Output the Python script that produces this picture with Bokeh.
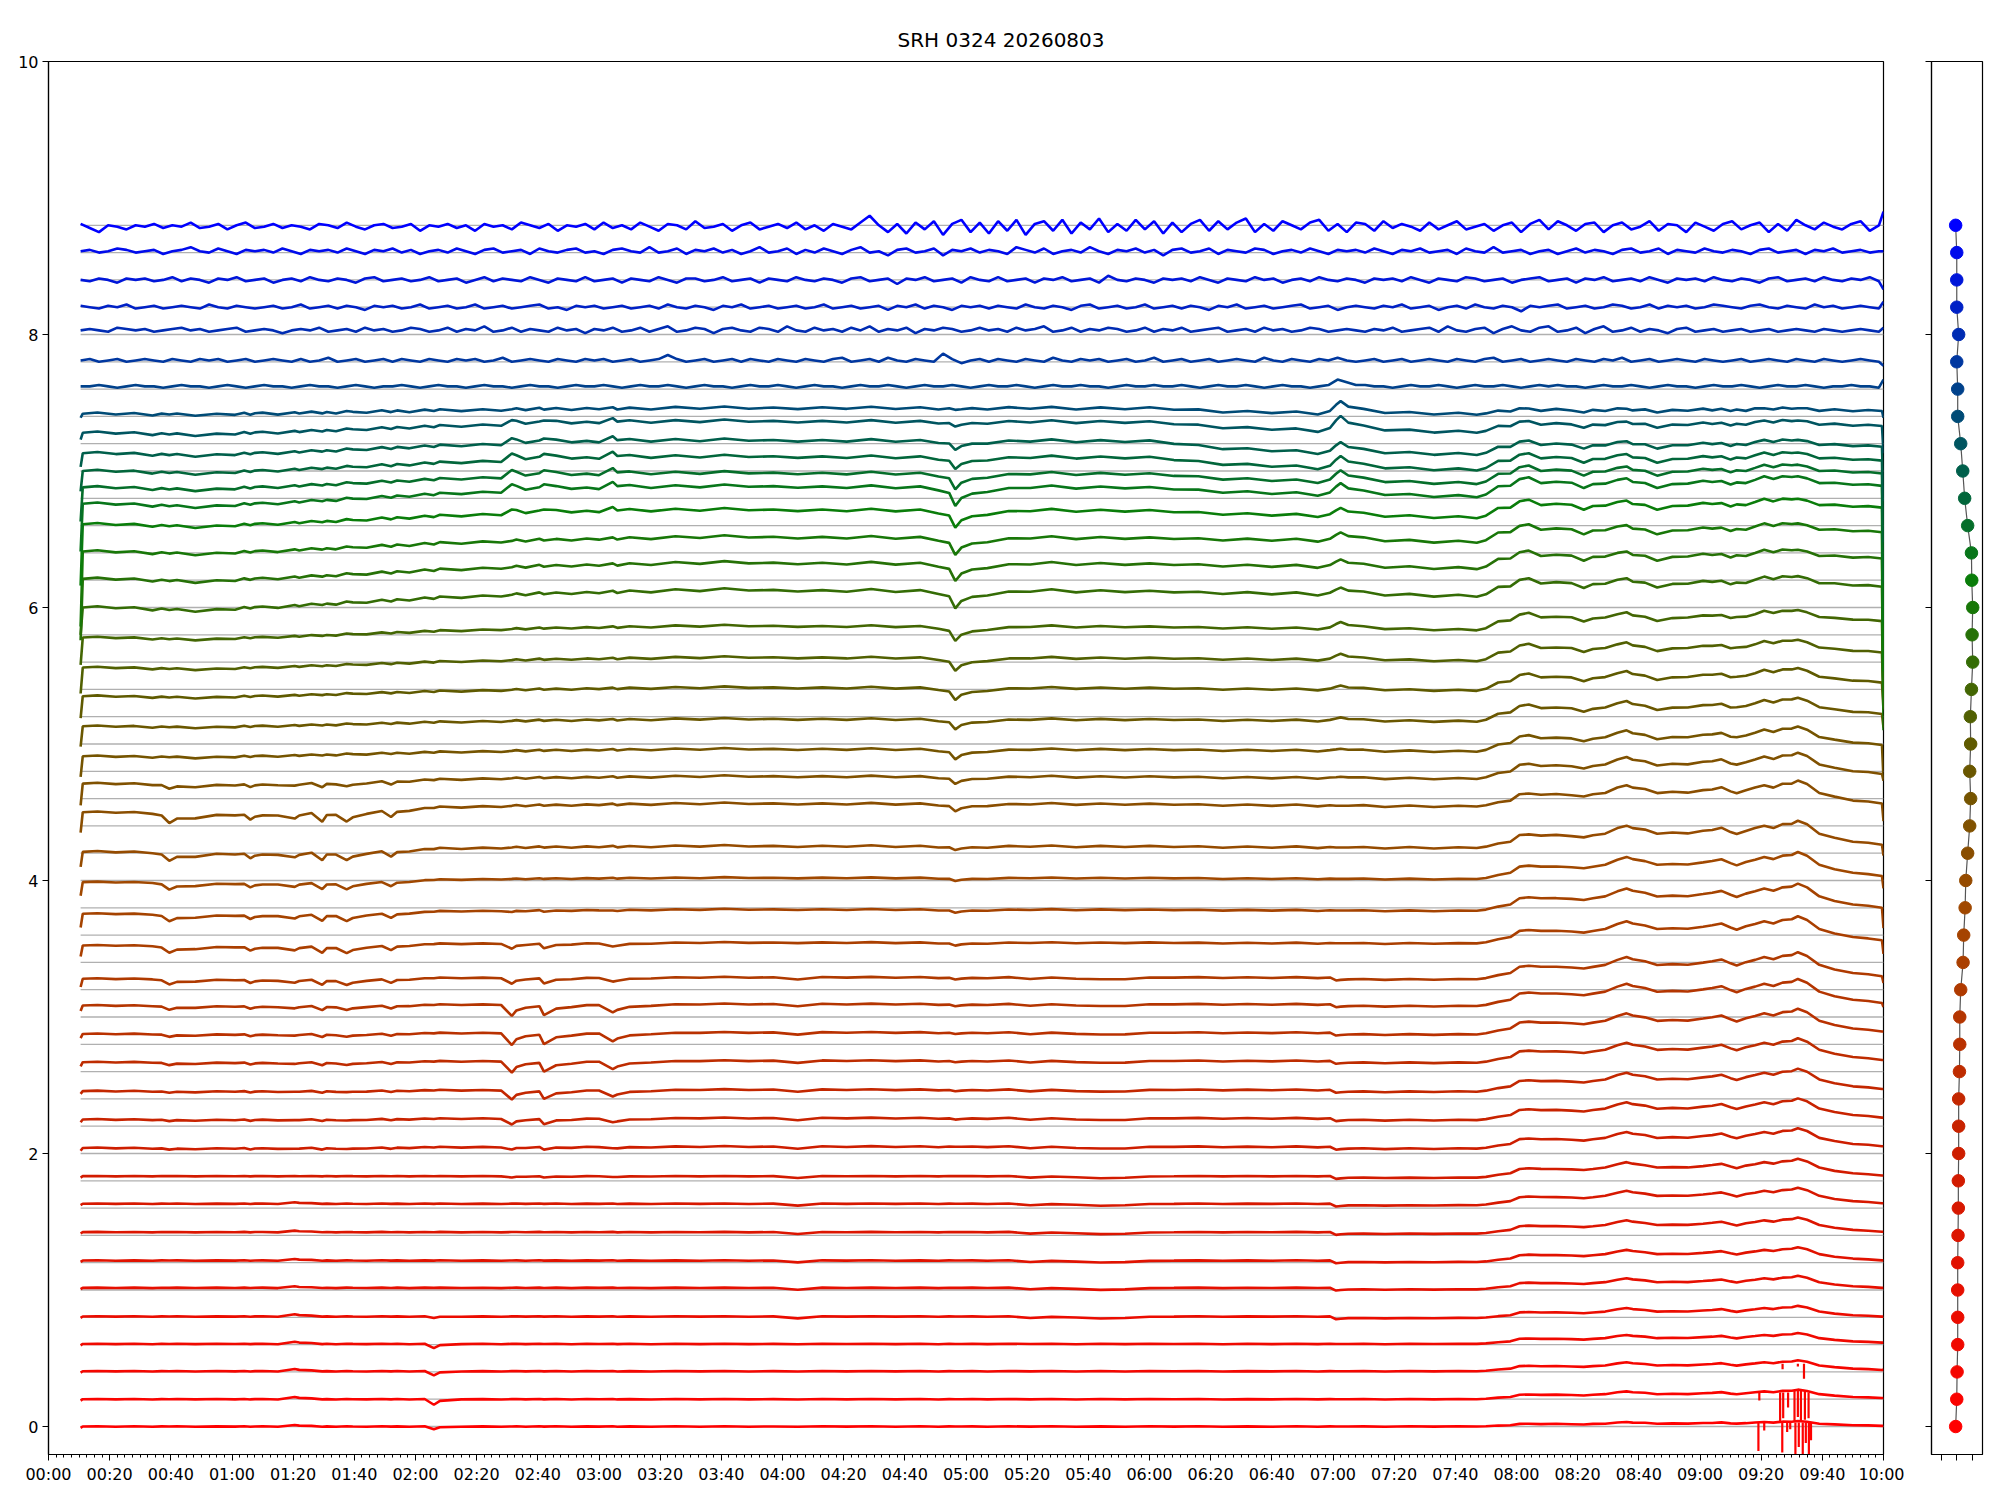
import numpy as np
from bokeh.plotting import figure
from bokeh.layouts import row
from bokeh.models import FixedTicker, Range1d
from bokeh.embed import file_html
from bokeh.resources import INLINE

TITLE = "SRH 0324 20260803"

# ---------------- data ----------------
# knot times (minutes after 00:00) for the smoother traces
T = [10.5, 11.2, 16, 22, 28, 34, 37, 39.5, 42, 48,
     55, 61, 64, 66, 67.5, 70, 75, 80.5, 82, 86,
     89.5, 91, 94, 97.5, 99.5, 104, 109, 112, 114, 118,
     123, 126, 128, 135, 142, 148, 151.5, 153, 156, 160.5,
     162, 166, 171, 176, 180, 184.5, 186, 190, 197, 205,
     213, 221, 229, 237, 245, 253, 261, 269, 277, 285,
     291, 294.5, 296.5, 298.5, 302, 307, 314, 321, 328, 336,
     344, 352, 360, 368, 376, 384, 392, 400, 408, 415,
     419, 421, 422.5, 425, 430, 437, 445, 453, 461, 467,
     470, 474, 478, 481, 484, 488, 493, 498, 502, 505,
     509, 513, 516, 518, 522, 526, 531, 536, 541, 544,
     547, 550, 552, 555, 558, 561, 564, 567, 570, 572,
     575, 579, 584, 590, 595, 599.5, 600]

# level (value near 00:15) of each of the 45 traces, bottom to top
LEVEL = [0.0, 0.2, 0.405, 0.605, 0.806, 1.016, 1.216, 1.424, 1.632, 1.834,
         2.04, 2.249, 2.457, 2.669, 2.876, 3.084, 3.28, 3.524, 3.756, 3.988,
         4.21, 4.5, 4.71, 4.91, 5.13, 5.35, 5.56, 5.78, 6.0, 6.21,
         6.41, 6.61, 6.76, 6.88, 7.0, 7.13, 7.28, 7.42, 7.62, 7.81,
         8.03, 8.2, 8.4, 8.61, 8.79]

# slow rise of the middle traces (shape on T)
DRIFT = [0, 0, 0, 0, -0.05, -0.1, -0.1, -0.15, -0.15, -0.2,
         -0.15, -0.1, -0.05, 0, 0, 0, 0.05, 0.1, 0.1, 0.15,
         0.2, 0.2, 0.25, 0.3, 0.3, 0.35, 0.4, 0.4, 0.45, 0.5,
         0.55, 0.55, 0.6, 0.65, 0.7, 0.75, 0.75, 0.8, 0.8, 0.85,
         0.85, 0.85, 0.9, 0.9, 0.9, 0.95, 0.95, 1.0, 1.0, 1.05,
         1.05, 1.1, 1.1, 1.05, 1.05, 1.0, 1.0, 1.05, 1.0, 1.0,
         1.0, 0.95, 0.95, 0.95, 0.95, 1.0, 1.0, 1.0, 1.05, 1.0,
         1.0, 1.0, 0.95, 0.95, 0.9, 0.9, 0.9, 0.85, 0.85, 0.8,
         0.8, 0.8, 0.8, 0.8, 0.8, 0.75, 0.75, 0.7, 0.7, 0.7,
         0.7, 0.7, 0.7, 0.7, 0.7, 0.7, 0.7, 0.7, 0.7, 0.7,
         0.7, 0.7, 0.7, 0.7, 0.7, 0.7, 0.7, 0.7, 0.7, 0.7,
         0.7, 0.7, 0.7, 0.7, 0.7, 0.7, 0.7, 0.7, 0.7, 0.7,
         0.7, 0.7, 0.7, 0.7, 0.7, 0.7, 0.7]

# small texture of the middle traces (shape on T)
WIG = [0, 0, 0.6, -0.4, 0.5, -0.6, 0.3, 0, 0.5, -0.5,
       0.4, -0.3, 0.6, -0.5, 0.2, 0.5, -0.6, 0.4, -0.2, 0.6,
       -0.4, 0.3, -0.6, 0.5, 0.1, -0.5, 0.6, -0.3, 0.4, -0.6,
       0.5, -0.2, 0.6, -0.5, 0.3, -0.6, 0.2, 0.5, -0.4, 0.6,
       -0.3, 0.5, -0.6, 0.4, -0.2, 0.6, -0.5, 0.3, -0.6, 0.5,
       -0.4, 0.6, -0.5, 0.2, -0.6, 0.5, -0.3, 0.6, -0.4, 0.5,
       -0.6, 0.3, 0, 0, 0.4, -0.5, 0.6, -0.3, 0.5, -0.6,
       0.4, -0.5, 0.6, -0.2, 0.5, -0.6, 0.3, -0.4, 0.6, -0.5,
       0.3, 0, 0, 0, 0.4, -0.6, 0.5, -0.3, 0.6, -0.4,
       0, 0.3, -0.4, 0.5, 0, -0.5, 0.6, -0.3, -0.6, 0.4,
       -0.5, 0.6, 0, -0.4, 0.5, -0.6, 0.4, -0.3, 0.6, -0.4,
       0.5, -0.3, 0.3, -0.5, 0.6, 0, -0.4, 0.5, -0.3, 0,
       0.4, -0.5, 0.6, -0.4, 0.3, 0, 0]

# late burst, red/brown form (peak 09:32)
LATE_R = {467: 0.02, 470: 0.05, 474: 0.15, 478: 0.25, 481: 0.45, 484: 0.5, 488: 0.48,
          493: 0.45, 498: 0.45, 502: 0.42, 505: 0.45, 509: 0.55, 513: 0.7, 516: 0.82,
          518: 0.75, 522: 0.65, 526: 0.55, 531: 0.55, 536: 0.55, 541: 0.6, 544: 0.68,
          547: 0.72, 550: 0.6, 552: 0.5, 555: 0.65, 558: 0.7, 561: 0.82, 564: 0.75,
          567: 0.85, 570: 0.9, 572: 1.0, 575: 0.85, 579: 0.55, 584: 0.35, 590: 0.25,
          595: 0.18, 599.5: 0.12, 600: 0.12}
# late burst, green form (step at 08:00)
LATE_G = {470: 0.1, 474: 0.5, 478: 0.6, 481: 0.85, 484: 1.0, 488: 0.75, 493: 0.7,
          498: 0.75, 502: 0.5, 505: 0.6, 509: 0.72, 513: 0.8, 516: 0.95, 518: 0.8,
          522: 0.65, 526: 0.5, 531: 0.6, 536: 0.7, 541: 0.75, 544: 0.8, 547: 0.75,
          550: 0.65, 552: 0.7, 555: 0.75, 558: 0.8, 561: 1.05, 564: 0.95, 567: 1.0,
          570: 1.05, 572: 1.05, 575: 0.9, 579: 0.75, 584: 0.65, 590: 0.65, 595: 0.6,
          599.5: 0.55, 600: 0.55}
# dips 00:37 - 01:55 of the brown traces
DIP_EARLY = {37: -0.3, 39.5: -1.0, 42: -0.6, 48: -0.4, 55: -0.2, 61: -0.2, 64: -0.3,
             66: -0.7, 67.5: -0.5, 70: -0.4, 75: -0.3, 80.5: -0.8, 82: -0.4, 86: -0.3,
             89.5: -1.1, 91: -0.5, 94: -0.4, 97.5: -1.3, 99.5: -0.8, 104: -0.4,
             109: -0.3, 112: -0.8, 114: -0.4, 118: -0.2, 123: -0.1}
# dips 02:32, 02:42, 03:04
DIP_B = {151.5: -1.0, 153: -0.55, 156: -0.25, 160.5: -0.2, 162: -0.9, 166: -0.4,
         171: -0.2, 176: -0.1, 180: -0.05, 184.5: -0.75, 186: -0.45, 190: -0.25,
         197: -0.1, 205: -0.05}
# dip 04:57
DIP_C = {291: -0.1, 294.5: -0.3, 296.5: -1.0, 298.5: -0.55, 302: -0.35, 307: -0.2, 314: -0.1}
# spike 07:02
SPIKE_D = {419: 0.15, 421: 0.7, 422.5: 1.0, 425: 0.55, 430: 0.3, 437: 0.15, 445: 0.05}
# slow sag of the teal traces before 07:00, then kept
TEAL_RAMP = {368: -0.2, 376: -0.4, 384: -0.6, 392: -0.7, 400: -0.8, 408: -0.9}
TEAL_AFTER = (415, -1.0)
# small dips of the red traces
RED_MID = {245: -0.6, 321: -0.5, 328: -0.2, 336: -0.3, 344: -0.8, 352: -0.5, 360: -0.2,
           421: -1.0, 422.5: -0.8}
RED_AFTER = (425, -0.6)
BUMP80 = {80.5: 1.0, 82: 0.7, 86: 0.3}
DIP126 = {126: -1.0, 128: -0.35}

# per-trace amplitudes (hundredths of a unit)
AMP_DRIFT = [0, 0, 0, 0, 0, 0, 0, 0, 0, 0,
             1, 1, 1, 1, 1, 1, 1, 2, 3, 3,
             4, 6, 5, 5, 5, 6, 7, 8, 12, 11,
             10, 10, 12, 10, 10, 9, 8, 4, 0, 0,
             0, 0, 0, 0, 0]
AMP_WIG = [0.3, 0.3, 0.3, 0.3, 0.3, 0.3, 0.3, 0.3, 0.3, 0.3,
           0.6, 0.6, 0.6, 0.6, 0.6, 0.6, 0.6, 0.6, 0.6, 0.6,
           1, 1, 1, 1, 1, 1, 1, 1, 1.5, 1.5,
           1.5, 1.5, 1.5, 1.5, 1.5, 1.5, 1.5, 1.5, 0, 0,
           0, 0, 0, 0, 0]
AMP_LATE_R = [4, 7, 8, 8, 9, 10, 11, 12, 13, 14,
              15, 16, 17, 18, 19, 20, 20, 20, 20, 20,
              20, 19, 16, 12, 9, 7, 5, 3, 2, 0,
              0, 0, 0, 0, 0, 0, 0, 0, 0, 0,
              0, 0, 0, 0, 0]
AMP_LATE_G = [0, 0, 0, 0, 0, 0, 0, 0, 0, 0,
              0, 0, 0, 0, 0, 0, 0, 0, 0, 0,
              0, 0, 3, 6, 8, 9, 10, 11, 12, 13,
              13, 13, 14, 13, 12, 10, 8, 4, 0, 0,
              0, 0, 0, 0, 0]
AMP_DIP_EARLY = [0, 0, 0, 0, 0, 0, 0, 0, 0, 0,
                 1, 1, 1, 2, 2, 3, 4, 5, 5, 5,
                 6, 7, 3, 0, 0, 0, 0, 0, 0, 0,
                 0, 0, 0, 0, 0, 0, 0, 0, 0, 0,
                 0, 0, 0, 0, 0]
AMP_DIP_B = [0, 0, 0, 0, 0, 0, 0, 0, 0, 1,
             2, 4.5, 7, 8.5, 9, 8.5, 4.5, 4, 1, 0,
             0, 0, 0, 0, 0, 0, 0, 0, 0, 0,
             0, -3, -5, -5, -5, -4, -3, 0, 0, 0,
             0, 0, 0, 0, 0]
AMP_DIP_C = [0, 0, 0, 0, 0, 0, 0, 0, 0, 0,
             0, 1, 1, 1, 1, 1.5, 1.5, 2, 2, 2,
             2.5, 5, 5, 7, 7, 8.5, 9, 10, 12, 12,
             12, 12, 13, 11, 8, 6, 3, 1, 0, 0,
             0, 0, 0, 0, 0]
AMP_SPIKE_D = [0, 0, 0, 0, 0, 0, 0, 0, 0, 0,
               0, 0, 0, 0, 0, 0, 0, 0, 0, 0,
               0, 0, 1, 1.5, 2.5, 3, 4.5, 5, 5, 5.5,
               6, 6, 8.5, 8.5, 9, 8, 11, 9, 0, 0,
               0, 0, 0, 0, 0]
AMP_TEAL = [0, 0, 0, 0, 0, 0, 0, 0, 0, 0,
            0, 0, 0, 0, 0, 0, 0, 0, 0, 0,
            0, 0, 0, 0, 0, 0, 0, 0, 0, 0,
            0, 2, 3, 4, 6, 7, 5, 3, 0, 0,
            0, 0, 0, 0, 0]
AMP_RED_MID = [0, 0, 0, 0, 2, 2, 2, 2, 2, 2,
               2, 2, 2, 2, 2, 2, 2, 0, 0, 0,
               0, 0, 0, 0, 0, 0, 0, 0, 0, 0,
               0, 0, 0, 0, 0, 0, 0, 0, 0, 0,
               0, 0, 0, 0, 0]
AMP_BUMP80 = [1, 1.5, 1.5, 1.5, 1.5, 1, 1, 1, 1, 0,
              0, 0, 0, 0, 0, 0, 0, 0, 0, 0,
              0, 0, 0, 0, 0, 0, 0, 0, 0, 0,
              0, 0, 0, 0, 0, 0, 0, 0, 0, 0,
              0, 0, 0, 0, 0]
AMP_DIP126 = [2, 4, 3, 3, 1, 0, 0, 0, 0, 0,
              0, 0, 0, 0, 0, 0, 0, 0, 0, 0,
              0, 0, 0, 0, 0, 0, 0, 0, 0, 0,
              0, 0, 0, 0, 0, 0, 0, 0, 0, 0,
              0, 0, 0, 0, 0]
# drop of the very first sample and change of the very last sample (hundredths)
START_DROP = [1, 1, 1, 1, 1, 1, 1, 1, 1, 1,
              2, 2, 2, 3, 3, 4, 6, 8, 10, 10,
              11, 15, 16, 15, 15, 16, 19, 20, 20, 45,
              55, 45, 35, 25, 15, 10, 5, 3, 0, 0,
              0, 0, 0, 0, 0]
END_STEP = [0, 0, 0, 0, 0, 0, 0, 0, 0, 0,
            0, 0, 0, 0, 0, -3, -5, -10, -15, -9,
            -8, -13, -5, -25, -10, -20, -40, -60, -80, -110,
            -145, -120, -100, -80, -60, -40, -20, -5, 6, -3,
            3, 5, -6, 0, 10]

# noisy top traces: values every 3 minutes from 00:10:30 (hundredths)
NOISE = {
    44: [2, -1, -4, 1, 0, -2, 1, 0, 2, -1, 1, 0, 3, -1, 0, 2, -2, 1, 3, -1,
         0, 2, -1, 1, 0, -2, 2, 1, -1, 3, 0, -2, 1, 2, -1, 0, 2, -3, 1, 0,
         2, -1, 1, -3, 2, 0, 1, -2, 3, 1, -1, 2, -3, 1, 0, 2, -2, 3, -1, 1,
         -2, 3, 0, -3, 2, 1, -2, 4, -1, 0, 2, -3, 1, 3, -2, 0, 2, -1, 3, -2,
         1, -3, 2, 0, -2, 3, 8, 1, -4, 2, -5, 3, -2, 4, -6, 2, 5, -4, 3, -5,
         4, -3, 5, -6, 2, 4, -3, 5, -5, 3, -2, 6, -4, 2, -3, 5, -2, 4, -5, 3,
         -4, 2, 5, -3, 4, -2, 3, 6, -4, 2, -3, 4, 1, -2, 3, 5, -3, 2, -4, 3,
         2, -3, 4, -1, 2, 0, -3, 3, -2, 1, 4, -2, 0, 2, -3, 1, 3, -4, 2, 5,
         -2, 4, 1, -3, 2, 3, -4, 1, 3, -2, 0, 4, -3, 2, 1, -4, 3, 0, -3, 2,
         4, -2, 1, 3, -4, 2, -3, 5, 1, -2, 3, 0, -2, 2, 4, -3, 1],
    43: [0, 1, -1, 0, 2, 1, -1, 0, 1, -2, 0, 1, 3, 0, -1, 2, 0, -2, 1, 0,
         1, -1, 2, 0, -2, 1, 0, 1, -1, 2, 0, -2, 1, 0, 2, -1, 1, -2, 0, 1,
         -1, 2, 0, -2, 1, 2, -1, 0, 1, -2, 2, 0, -1, 1, 2, -1, 0, -2, 1, 2,
         0, -1, 3, -1, 0, 2, -2, 1, 0, 2, -1, 1, -2, 0, 3, -1, 0, 2, -2, 1,
         -1, 2, 0, -2, 1, 3, -1, 0, -3, 1, 2, -1, 0, 2, -3, 1, 0, 2, -1, 1,
         0, -2, 3, 1, -1, 2, -2, 0, 1, -1, 3, 0, -2, 1, 0, 2, -1, 1, -3, 1,
         2, -1, 0, 2, -2, 1, 0, -1, 2, 1, -2, 0, 1, -1, 2, 0, -2, 1, 0, 1,
         -1, 2, 0, -2, 1, 0, 2, -1, 0, 1, -2, 2, 0, -1, 3, -1, 0, 1, -2, 0,
         1, -2, 0, 2, -1, 1, 0, -2, 1, 2, -1, 0, 2, -2, 1, 0, -1, 2, 0, -1,
         1, 0, -2, 1, 2, -1, 0, 1, -2, 1, 0, 2, -1, 0, 1, -1, 0],
    42: [0, -1, 1, 0, -2, 1, 0, 1, -1, 0, 2, -1, 1, 0, -2, 1, 0, 2, -1, 0,
         1, -2, 0, 1, -1, 2, 0, -1, 1, 0, -2, 1, 2, -1, 0, 1, -1, 0, 2, -1,
         0, 1, -2, 0, 2, -1, 1, 0, -1, 2, 0, -2, 1, 0, -1, 2, -1, 0, 1, -2,
         1, 0, -1, 2, 0, -2, 1, 1, -1, 0, 2, -1, 0, 1, -2, 1, 0, -1, 2, 0,
         -1, 1, 0, -2, 1, 2, -1, 0, 1, -3, 1, 0, 2, -1, 0, 1, -2, 2, 0, -1,
         2, -1, 0, 1, -2, 1, 0, 2, -1, 0, 1, -2, 3, 0, -1, 1, 0, -2, 1, 0,
         1, -1, 2, 0, -2, 1, 0, -1, 2, 0, 1, -2, 0, 1, -1, 2, 0, -1, 1, 0,
         -2, 1, 0, 1, -1, 2, 0, -2, 1, 0, -1, 2, 1, -1, 0, 1, -2, 0, 1, 2,
         -1, 0, 1, -2, 1, 0, 2, -1, 0, 1, -1, 2, 0, -2, 1, 0, 1, -1, 2, 0,
         -1, 1, 0, -2, 1, 2, -1, 0, 1, -1, 2, 0, -1, 1, 0, 2, -1],
    41: [1, 0, -1, 1, 0, 2, -1, 0, 1, -1, 0, 1, 0, -1, 2, 0, -1, 1, 0, -1,
         0, 1, -1, 0, 2, -1, 0, 1, -1, 1, 0, -2, 1, 0, 1, -1, 0, 2, -1, 0,
         1, -1, 0, 2, -1, 0, 1, -1, 0, 1, 2, -1, 0, -2, 1, 0, 1, -1, 0, 1,
         -1, 0, 1, -1, 2, 0, -1, 1, 0, -2, 1, 0, 2, -1, 0, 1, -1, 0, 1, -1,
         0, 2, -1, 0, 1, -1, 0, 1, -2, 1, 0, 2, -1, 1, 0, -2, 1, 0, 1, -1,
         1, 0, -1, 2, 0, -1, 1, 0, -2, 1, 2, -1, 0, 1, -1, 0, 2, -1, 0, 1,
         -1, 1, 0, -2, 1, 0, 2, -1, 0, 1, -1, 0, 1, 2, -1, 0, 1, -2, 0, 1,
         0, -1, 1, 0, 2, -1, 0, 1, -2, 0, 1, -1, 2, 0, -1, 1, 0, -3, 1, 0,
         1, 2, -1, 0, 1, -1, 0, 2, 1, -1, 0, 2, -1, 1, 0, 1, -1, 0, 2, 1,
         0, -1, 1, 2, 0, -1, 1, 0, -1, 2, 0, 1, -1, 0, 1, 0, -1],
    40: [0, 1, 0, -1, 2, 1, 0, 1, -1, 0, 1, 2, 0, 1, -1, 0, 1, 2, -1, 0,
         1, 0, -2, 0, 1, 0, 2, -1, 0, 1, -1, 2, 0, 1, -1, 0, 2, 1, -1, 0,
         2, -1, 1, 0, 3, -1, 0, 2, -1, 1, 0, -1, 2, 0, 1, -2, 1, 0, 2, -1,
         0, 2, -1, 1, 3, -1, 0, 2, 1, -2, 1, 2, 0, -1, 2, 1, -1, 3, 0, -1,
         2, 0, 1, -1, 2, 0, 3, -1, 1, 0, 2, -2, 1, 0, 2, 1, -1, 0, 2, 0,
         1, -1, 2, 0, 1, 3, -1, 0, 2, -1, 1, 0, 2, 1, -1, 0, 2, -1, 1, 0,
         2, -1, 0, 1, 2, -1, 0, 1, -1, 2, 0, 1, -1, 0, 2, 1, -1, 0, 1, 0,
         -1, 1, 0, 2, -1, 0, 1, 2, -1, 3, 0, -1, 1, 2, -2, 1, 3, 0, -1, 2,
         3, -1, 0, 2, -2, 1, 3, -1, 0, 2, -1, 1, 0, -2, 1, 2, -1, 0, 1, -1,
         0, 1, -1, 0, 1, -1, 0, 1, 0, -1, 1, 0, -1, 0, 1, 0, -1],
    39: [0, 1, -1, 0, 1, -1, 0, 1, 0, -1, 1, 0, -1, 1, 0, 1, -1, 0, 1, -1,
         0, 1, 0, -1, 1, -1, 0, 2, -1, 0, 1, -1, 0, 1, -1, 1, 0, -1, 1, 0,
         -1, 1, 0, 1, -1, 0, 2, -1, 0, 1, 0, -1, 1, 0, -1, 1, 0, 1, -1, 0,
         1, -1, 0, 1, 4, 1, -1, 0, 1, -1, 0, 1, -1, 1, 0, -1, 1, 0, -1, 1,
         0, -1, 1, 2, -1, 0, 1, -1, 2, 0, -1, 1, 0, -1, 5, 1, -2, 0, 1, -1,
         1, 0, -1, 1, 0, -1, 2, 0, -1, 1, 0, 1, -1, 0, 1, -1, 0, 2, -1, 0,
         1, -1, 0, 1, -1, 0, 1, 0, -1, 2, 0, -1, 1, 0, -1, 1, 0, 2, 0, -1,
         0, 1, -1, 0, 1, -1, 0, 1, 0, -1, 1, 0, -1, 1, 2, -1, 0, 1, -1, 0,
         1, 0, -1, 1, 0, -1, 1, 0, 2, -1, 0, 1, -1, 0, 1, 0, -1, 1, 0, -1,
         0, 1, -1, 0, 1, 0, -1, 1, 0, -1, 1, 0, -1, 0, 1, 0, -1],
    38: [0, 0, 1, 0, -1, 0, 1, 0, 0, -1, 0, 1, 0, 0, -1, 0, 1, 0, -1, 0,
         1, 0, 0, -1, 0, 1, 0, 0, -1, 0, 1, 0, -1, 0, 0, 1, 0, -1, 0, 1,
         0, 0, -1, 0, 1, 0, 0, -1, 0, 1, 0, 0, -1, 0, 1, 0, 0, 1, 0, -1,
         0, 1, 0, 0, 1, 0, -1, 0, 1, 0, 0, -1, 0, 1, 0, 0, 1, 0, -1, 0,
         1, 0, 0, -1, 0, 1, 0, 0, 1, 0, -1, 0, 1, 0, 0, 1, 0, -1, 0, 1,
         0, 0, 1, 0, -1, 0, 1, 0, 0, 1, 0, 0, -1, 0, 1, 0, 0, 1, 0, 0,
         1, 0, -1, 0, 1, 0, 0, 1, 0, -1, 0, 1, 0, 0, -1, 0, 1, 5, 3, 1,
         1, 0, 0, -1, 0, 1, 0, 0, 1, 0, -1, 0, 1, 0, 0, 1, 0, -1, 0, 1,
         0, 1, 0, 0, -1, 0, 1, 0, 0, 1, 0, -1, 0, 1, 0, 0, -1, 0, 1, 0,
         0, 1, 0, -1, 0, 1, 0, 0, 1, 0, -1, 0, 0, 1, 0, 0, -1],
}
NOISE_T0, NOISE_STEP = 10.5, 3.0

# interference spikes of the three lowest traces near 09:20-09:36
SPK_TRACE = [0, 0, 0, 0, 0, 0, 0, 0, 0, 0, 0,
             1, 1, 1, 1, 1, 1, 1, 1, 1,
             2, 2, 2]
SPK_T = [559.1, 561, 566.9, 568.5, 569.5, 571.2, 572.3, 573.6, 574.6, 575.6, 576.3,
         559.4, 566.2, 567.2, 568.8, 570.9, 572, 573, 574.3, 575.5,
         567, 572, 574]
SPK_TOP = [0.03, 0.03, 0.03, 0.03, 0.03, 0.03, 0.03, 0.03, 0.03, 0.03, 0.03,
           0.25, 0.25, 0.25, 0.25, 0.26, 0.26, 0.26, 0.26, 0.25,
           0.46, 0.46, 0.46]
SPK_BOT = [-0.18, -0.03, -0.19, -0.04, -0.02, -0.21, -0.15, -0.21, -0.12, -0.21, -0.1,
           0.19, 0.04, 0.06, 0.14, 0.04, 0.07, 0.035, 0.05, 0.06,
           0.42, 0.44, 0.35]

# side panel: one value per trace, plotted at the trace's reference level
SIDE_X = [-0.008, -0.001, 0.001, 0.005, 0.005, 0.005, 0.005, 0.007, 0.009, 0.009,
          0.011, 0.011, 0.011, 0.016, 0.018, 0.018, 0.024, 0.039, 0.043, 0.052,
          0.056, 0.068, 0.081, 0.087, 0.081, 0.087, 0.085, 0.092, 0.1, 0.096,
          0.1, 0.094, 0.092, 0.068, 0.049, 0.037, 0.024, 0.005, 0.005, -0.001,
          0.011, -0.001, -0.001, -0.001, -0.008]
REF_STEP = 0.2   # spacing of the grey reference levels

X_MAJOR = list(range(0, 601, 20))
X_MINOR = [m / 2 for m in range(0, 1201, 5)]
Y_TICKS = [0, 2, 4, 6, 8, 10]

# ---------------- styling ----------------
COLOR_STOPS = [(0, (255, 0, 0)), (10, (205, 30, 0)), (19, (160, 72, 0)), (25, (95, 90, 0)),
               (31, (10, 125, 10)), (35, (0, 95, 75)), (39, (0, 55, 160)), (44, (0, 0, 255))]
FONT = "DejaVu Sans"


def trace_color(i):
    for (i0, c0), (i1, c1) in zip(COLOR_STOPS[:-1], COLOR_STOPS[1:]):
        if i0 <= i <= i1:
            f = (i - i0) / (i1 - i0)
            return "#%02x%02x%02x" % tuple(int(round(a + (b - a) * f)) for a, b in zip(c0, c1))
    return "#000000"


n = len(LEVEL)
T_arr = np.array(T, float)


def full(vals):
    vals = list(vals)
    if len(vals) < len(T):
        vals = vals + [vals[-1]] * (len(T) - len(vals))
    return np.array(vals[:len(T)], float)


def sparse(d):
    return np.array([float(d.get(t, 0.0)) for t in T])


def after(spec):
    t0, v = spec
    return np.array([v if t >= t0 else 0.0 for t in T])


components = [
    (full(DRIFT), AMP_DRIFT),
    (full(WIG), AMP_WIG),
    (sparse(LATE_R), AMP_LATE_R),
    (sparse(LATE_G), AMP_LATE_G),
    (sparse(DIP_EARLY), AMP_DIP_EARLY),
    (sparse(DIP_B), AMP_DIP_B),
    (sparse(DIP_C), AMP_DIP_C),
    (sparse(SPIKE_D), AMP_SPIKE_D),
    (sparse(TEAL_RAMP) + after(TEAL_AFTER), AMP_TEAL),
    (sparse(RED_MID) + after(RED_AFTER), AMP_RED_MID),
    (sparse(BUMP80), AMP_BUMP80),
    (sparse(DIP126), AMP_DIP126),
]

colors = [trace_color(i) for i in range(n)]
xs, ys = [], []
for i in range(n):
    if i in NOISE:
        vals = np.array(NOISE[i], float)
        tt = NOISE_T0 + NOISE_STEP * np.arange(len(vals))
        yy = LEVEL[i] + 0.01 * vals
        yy[0] -= 0.01 * START_DROP[i]
        tt = np.append(tt, 600.0)
        yy = np.append(yy, yy[-1] + 0.01 * END_STEP[i])
    else:
        dev = np.zeros(len(T))
        for shape, amp in components:
            dev += amp[i] * shape
        yy = LEVEL[i] + 0.01 * dev
        yy[0] -= 0.01 * START_DROP[i]
        yy[-1] += 0.01 * END_STEP[i]
        tt = T_arr
    xs.append(list(tt))
    ys.append(list(yy))

ref_levels = [REF_STEP * k for k in range(n)]

# ---------------- figures ----------------
yr = Range1d(-0.205, 10)
main = figure(width=1904, height=1494, x_range=Range1d(0, 600), y_range=yr,
              output_backend="svg", toolbar_location=None,
              min_border_left=48, min_border_right=21, min_border_top=61, min_border_bottom=40)
main.title.text = TITLE
main.title.align = "left"
main.title.offset = 849
main.title.text_font = FONT
main.title.text_font_size = "20px"
main.title.text_font_style = "normal"
main.title.text_color = "black"
main.title.standoff = 20
main.xgrid.visible = False
main.ygrid.visible = False
main.outline_line_color = "black"
main.outline_line_width = 1.2

main.multi_line(xs=[[NOISE_T0, 600]] * n, ys=[[b, b] for b in ref_levels],
                line_color="#b0b0b0", line_width=1.3)
main.multi_line(xs=xs, ys=ys, line_color=colors, line_width=2.6)
main.segment(x0=SPK_T, y0=SPK_TOP, x1=SPK_T, y1=SPK_BOT,
             line_color=[colors[k] for k in SPK_TRACE], line_width=2.2)

main.xaxis.ticker = FixedTicker(ticks=X_MAJOR, minor_ticks=X_MINOR)
main.xaxis.major_label_overrides = {m: "%02d:%02d" % (m // 60, m % 60) for m in X_MAJOR}
main.yaxis.ticker = FixedTicker(ticks=Y_TICKS, minor_ticks=[])
for ax in (main.xaxis[0], main.yaxis[0]):
    ax.major_label_text_font = FONT
    ax.major_label_text_font_size = "16px"
    ax.major_label_text_color = "black"
    ax.axis_line_color = "black"
    ax.axis_line_width = 1.2
    ax.major_tick_line_color = "black"
    ax.minor_tick_line_color = "black"
    ax.major_tick_out = 6
    ax.major_tick_in = 0
    ax.minor_tick_out = 3
    ax.minor_tick_in = 0
    ax.major_label_standoff = 4

side = figure(width=88, height=1494, x_range=Range1d(-0.161, 0.162), y_range=yr,
              output_backend="svg", toolbar_location=None,
              min_border_left=27, min_border_right=10, min_border_top=61, min_border_bottom=40)
side.xgrid.visible = False
side.ygrid.visible = False
side.outline_line_color = "black"
side.outline_line_width = 1.2
side.line(SIDE_X, ref_levels, line_color="#555555", line_width=1.2)
side.scatter(SIDE_X, ref_levels, size=12.5, fill_color=colors, line_color=colors)
side.xaxis.ticker = FixedTicker(ticks=[-0.1, 0, 0.1], minor_ticks=[])
side.xaxis.major_label_overrides = {-0.1: "", 0: "", 0.1: ""}
side.yaxis.ticker = FixedTicker(ticks=Y_TICKS, minor_ticks=[])
side.yaxis.major_label_overrides = {v: "" for v in Y_TICKS}
for ax in (side.xaxis[0], side.yaxis[0]):
    ax.axis_line_color = "black"
    ax.axis_line_width = 1.2
    ax.major_tick_line_color = "black"
    ax.major_tick_out = 6
    ax.major_tick_in = 0
    ax.major_label_text_font_size = "16px"

layout = row(main, side)
open("out.html", "w").write(file_html(layout, INLINE))
